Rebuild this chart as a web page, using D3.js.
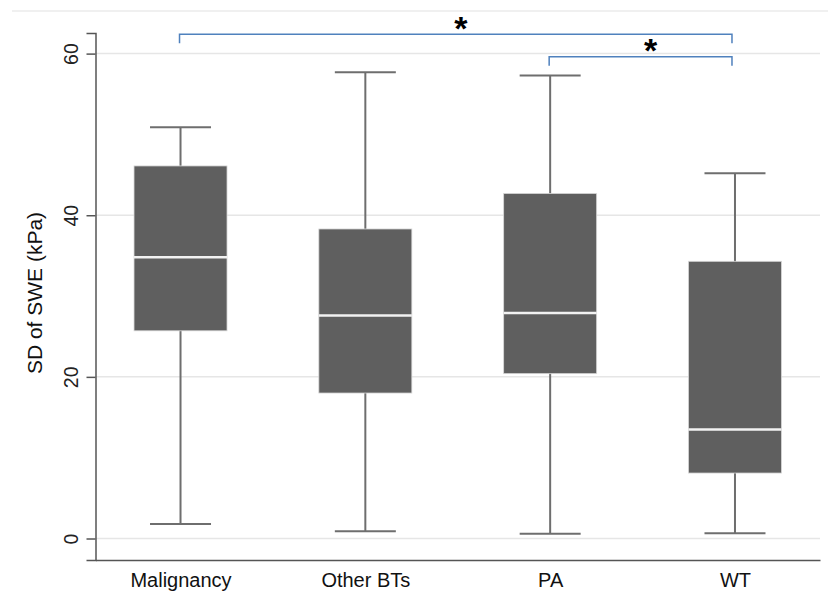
<!DOCTYPE html>
<html>
<head>
<meta charset="utf-8">
<script src="https://cdn.jsdelivr.net/npm/d3@7"></script>
<style>
  body { margin: 0; background: #fff; }
  svg { display: block; font-family: "Liberation Sans", Arial, sans-serif; }
</style>
</head>
<body>
<svg id="chart" width="828" height="610"></svg>
<script>
const groups = ["Malignancy", "Other BTs", "PA", "WT"];
const lowWhisker = [1.8, 0.9, 0.6, 0.65];
const q1 = [25.7, 18.0, 20.4, 8.1];
const median = [34.8, 27.6, 27.9, 13.5];
const q3 = [46.1, 38.3, 42.7, 34.3];
const highWhisker = [50.9, 57.7, 57.3, 45.2];
const yTicks = [0, 20, 40, 60];
const brackets = [
  {from: "Malignancy", to: "WT", level: 62.4, label: "*"},
  {from: "PA", to: "WT", level: 59.6, label: "*"}
];

const svg = d3.select('#chart');
const width = +svg.attr('width');
const height = +svg.attr('height');

const data = groups.map((g, i) => ({
  group: g, lo: lowWhisker[i], q1: q1[i], med: median[i], q3: q3[i], hi: highWhisker[i]
}));

const plot = {left: 95.5, right: 820, top: 33, bottom: 560};

const x = d3.scalePoint()
  .domain(groups)
  .range([plot.left, plot.right])
  .padding(0.46);

const y = d3.scaleLinear()
  .domain([-2.66, 62.55])
  .range([plot.bottom, plot.top]);

// faint frame line at top
svg.append('line')
  .attr('x1', 12).attr('x2', width)
  .attr('y1', 11).attr('y2', 11)
  .attr('stroke', '#ebebeb').attr('stroke-width', 1.5);

// gridlines
svg.append('g')
  .selectAll('line')
  .data(yTicks)
  .enter()
  .append('line')
  .attr('x1', plot.left).attr('x2', plot.right)
  .attr('y1', d => y(d)).attr('y2', d => y(d))
  .attr('stroke', '#e6e6e6').attr('stroke-width', 1.5);

// y axis
const yAxis = d3.axisLeft(y).tickValues(yTicks).tickSize(9).tickPadding(8);
const gy = svg.append('g')
  .attr('transform', 'translate(' + plot.left + ',0)')
  .call(yAxis);
gy.select('.domain').attr('stroke', '#555').attr('stroke-width', 1.5);
gy.selectAll('.tick line').attr('stroke', '#555').attr('stroke-width', 1.5);
gy.selectAll('.tick text')
  .attr('font-size', 19.5).attr('fill', '#222')
  .attr('transform', 'rotate(-90)')
  .attr('x', 0).attr('y', -25)
  .attr('dy', '0.36em')
  .attr('text-anchor', 'middle');

// x axis
const xAxis = d3.axisBottom(x).tickSize(0).tickPadding(13);
const gx = svg.append('g')
  .attr('transform', 'translate(0,' + plot.bottom + ')')
  .call(xAxis);
gx.select('.domain').attr('stroke', '#555').attr('stroke-width', 1.5);
gx.selectAll('.tick text').attr('font-size', 20).attr('fill', '#111');

// y label
svg.append('text')
  .attr('transform', 'translate(41.5,293) rotate(-90)')
  .attr('text-anchor', 'middle')
  .attr('font-size', 21)
  .attr('fill', '#111')
  .text('SD of SWE (kPa)');

const boxW = 93, capW = 61;
const whiskColor = '#6e6e6e';

const box = svg.append('g')
  .selectAll('g')
  .data(data)
  .enter()
  .append('g')
  .attr('transform', d => 'translate(' + x(d.group) + ',0)');

box.append('line')
  .attr('x1', 0).attr('x2', 0)
  .attr('y1', d => y(d.hi)).attr('y2', d => y(d.lo))
  .attr('stroke', whiskColor).attr('stroke-width', 2);

box.append('line')
  .attr('x1', -capW / 2).attr('x2', capW / 2)
  .attr('y1', d => y(d.hi)).attr('y2', d => y(d.hi))
  .attr('stroke', whiskColor).attr('stroke-width', 2);

box.append('line')
  .attr('x1', -capW / 2).attr('x2', capW / 2)
  .attr('y1', d => y(d.lo)).attr('y2', d => y(d.lo))
  .attr('stroke', whiskColor).attr('stroke-width', 2);

box.append('rect')
  .attr('x', -boxW / 2)
  .attr('width', boxW)
  .attr('y', d => y(d.q3))
  .attr('height', d => y(d.q1) - y(d.q3))
  .attr('fill', '#5f5f5f')
  .attr('stroke', '#d8d8d8').attr('stroke-width', 0.8);

box.append('line')
  .attr('x1', -boxW / 2).attr('x2', boxW / 2)
  .attr('y1', d => y(d.med)).attr('y2', d => y(d.med))
  .attr('stroke', '#f2f2f2').attr('stroke-width', 2.5);

// significance brackets
const starShift = [3, 8];
const br = svg.append('g')
  .selectAll('g')
  .data(brackets)
  .enter()
  .append('g');

br.append('path')
  .attr('d', d => {
    const x1 = x(d.from) - 1, x2 = x(d.to) - 3, yy = y(d.level);
    return 'M' + x1 + ',' + (yy + 9) + 'V' + yy + 'H' + x2 + 'V' + (yy + 9);
  })
  .attr('fill', 'none')
  .attr('stroke', '#4f81bd').attr('stroke-width', 1.5);

br.append('text')
  .attr('x', (d, i) => (x(d.from) + x(d.to)) / 2 + starShift[i])
  .attr('y', d => y(d.level) + 5.5)
  .attr('text-anchor', 'middle')
  .attr('font-size', 34)
  .attr('font-weight', 'bold')
  .attr('fill', '#000')
  .text(d => d.label);
</script>
</body>
</html>
